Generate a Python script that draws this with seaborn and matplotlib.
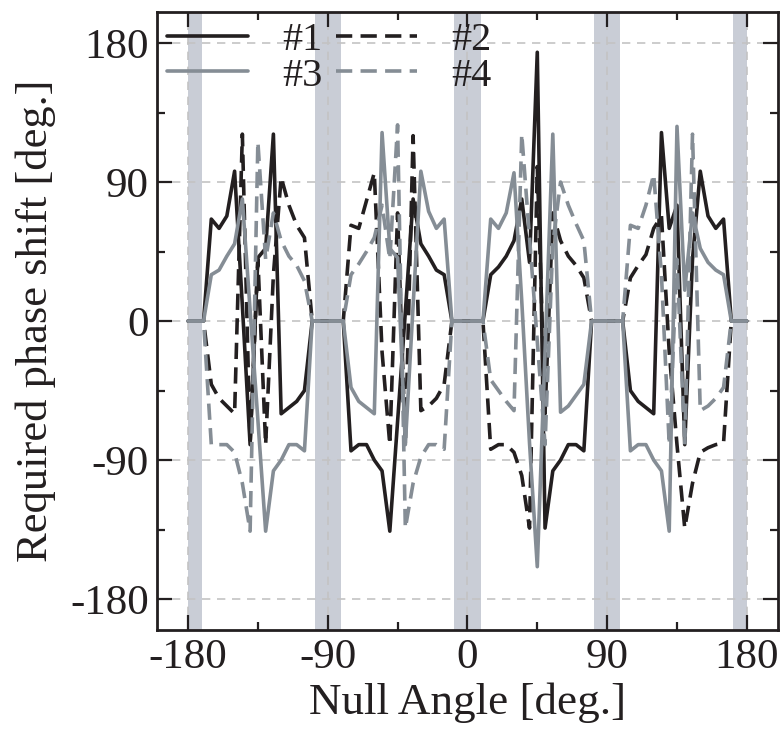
import numpy as np
import pandas as pd
import seaborn as sns
import matplotlib.pyplot as plt
from matplotlib.lines import Line2D
from matplotlib.ticker import MultipleLocator

# null angle grid, 5 deg steps
angle = np.arange(-180, 181, 5)

s1 = [0, 0, 0,
      66, 60, 68, 97, 10, -80, 41, 47, 121, -60, -56, -52, -45,
      0, 0, 0, 0, 0,
      -84, -80, -80, -90, -97, -136, -65, 6, 79, 50, 42, 33, 30,
      0, 0, 0, 0, 0,
      30, 35, 42, 52, 79, 38, 174, -134, -97, -90, -80, -80, -84,
      0, 0, 0, 0, 0,
      -45, -52, -56, -60, 122, 60, 75, -80, 40, 97, 68, 60, 66,
      0, 0, 0]
s2 = [0, 0, 0,
      -41, -50, -55, -60, 121, -80, 40, -80, 30, 93, 75, 62, 54,
      0, 0, 0, 0, 0,
      62, 60, 78, 96, -20, -80, 70, -80, 120, -58, -55, -50, -41,
      0, 0, 0, 0, 0,
      -83, -80, -80, -85, -100, -134, 100, -60, 70, 52, 42, 36, 28,
      0, 0, 0, 0, 0,
      28, 36, 43, 60, 68, -20, -80, -134, -105, -85, -82, -80, -79,
      0, 0, 0]
s3 = [0, 0, 0,
      30, 33, 42, 50, 79, 7, -64, -136, -97, -90, -80, -80, -84,
      0, 0, 0, 0, 0,
      -43, -52, -56, -60, 122, 47, 41, -80, 10, 97, 71, 60, 66,
      0, 0, 0, 0, 0,
      66, 60, 70, 96, 13, -79, -159, -20, 121, -59, -55, -48, -41,
      0, 0, 0, 0, 0,
      -84, -80, -80, -90, -97, -136, 126, 20, 70, 47, 38, 33, 30,
      0, 0, 0]
s4 = [0, 0, 0,
      -80, -80, -80, -85, -105, -136, 116, 40, 70, 52, 42, 36, 26,
      0, 0, 0, 0, 0,
      30, 37, 45, 54, 75, 40, 127, -134, -105, -88, -80, -80, -83,
      0, 0, 0, 0, 0,
      -38, -45, -52, -58, 121, 54, -13, -80, 50, 90, 75, 63, 52,
      0, 0, 0, 0, 0,
      62, 60, 75, 95, 30, -80, 40, -80, 121, -58, -55, -50, -43,
      0, 0, 0]

labels = ["#1", "#2", "#3", "#4"]
band_centers = [-90, 0, 90]

black = "#231f20"
gray = "#858d95"
dash = (4.5, 2.3)

sns.set_style("ticks")
plt.rcParams['font.family'] = ['Liberation Serif', 'DejaVu Serif']
plt.rcParams['axes.unicode_minus'] = False
plt.rcParams['text.color'] = black
plt.rcParams['axes.labelcolor'] = black
plt.rcParams['xtick.color'] = black
plt.rcParams['ytick.color'] = black

fig = plt.figure(figsize=(7.81, 7.33), dpi=100)
ax = fig.add_axes([0.201, 0.1405, 0.795, 0.843])

# shaded null regions
ax.axvspan(-180, -171, color="#c9cdd6", lw=0, zorder=0.2)
ax.axvspan(171, 180, color="#c9cdd6", lw=0, zorder=0.2)
for c in band_centers:
    ax.axvspan(c - 8.5, c + 8.5, color="#c9cdd6", lw=0, zorder=0.2)

df = pd.DataFrame({"angle": angle, "#1": s1, "#2": s2, "#3": s3, "#4": s4})
styles = {"#1": (black, None), "#2": (black, dash),
          "#3": (gray, None), "#4": (gray, dash)}
for lab in labels:
    col, ds = styles[lab]
    l = sns.lineplot(data=df, x="angle", y=lab, color=col, lw=2.6, ax=ax, zorder=3)
    if ds is not None:
        l.lines[-1].set_dashes(ds)

ax.set_xlim(-200, 200)
ax.set_ylim(-200, 200)
ax.set_xticks([-180, -90, 0, 90, 180])
ax.set_yticks([-180, -90, 0, 90, 180])
ax.xaxis.set_minor_locator(MultipleLocator(45))
ax.yaxis.set_minor_locator(MultipleLocator(45))
ax.set_axisbelow(True)
ax.grid(True, which="major", ls=(0, (5, 4)), color="#c3c3c3", lw=1.2)
ax.tick_params(which="both", direction="in", top=True, right=True,
               labelsize=31, color=black, labelcolor=black, width=1.6, pad=6)
ax.tick_params(which="major", length=11)
ax.tick_params(which="minor", length=6)
for sp in ax.spines.values():
    sp.set_linewidth(2)
    sp.set_color(black)

ax.set_xlabel("Null Angle [deg.]", fontsize=32.5, labelpad=4, color=black)
ax.set_ylabel("Required phase shift [deg.]", fontsize=32, labelpad=10, color=black)

handles = [Line2D([], [], color=black, lw=2.6),
           Line2D([], [], color=gray, lw=2.6),
           Line2D([], [], color=black, lw=2.6, dashes=dash),
           Line2D([], [], color=gray, lw=2.6, dashes=dash)]
ax.legend(handles, ["#1", "#3", "#2", "#4"], ncol=2, loc="upper left",
          bbox_to_anchor=(0, 1), frameon=False, fontsize=29,
          handlelength=2.0, handletextpad=0.85, columnspacing=0.35,
          labelspacing=-0.05, borderaxespad=0.1, borderpad=0.15,
          labelcolor=black)

fig.savefig("out.png", dpi=100)
